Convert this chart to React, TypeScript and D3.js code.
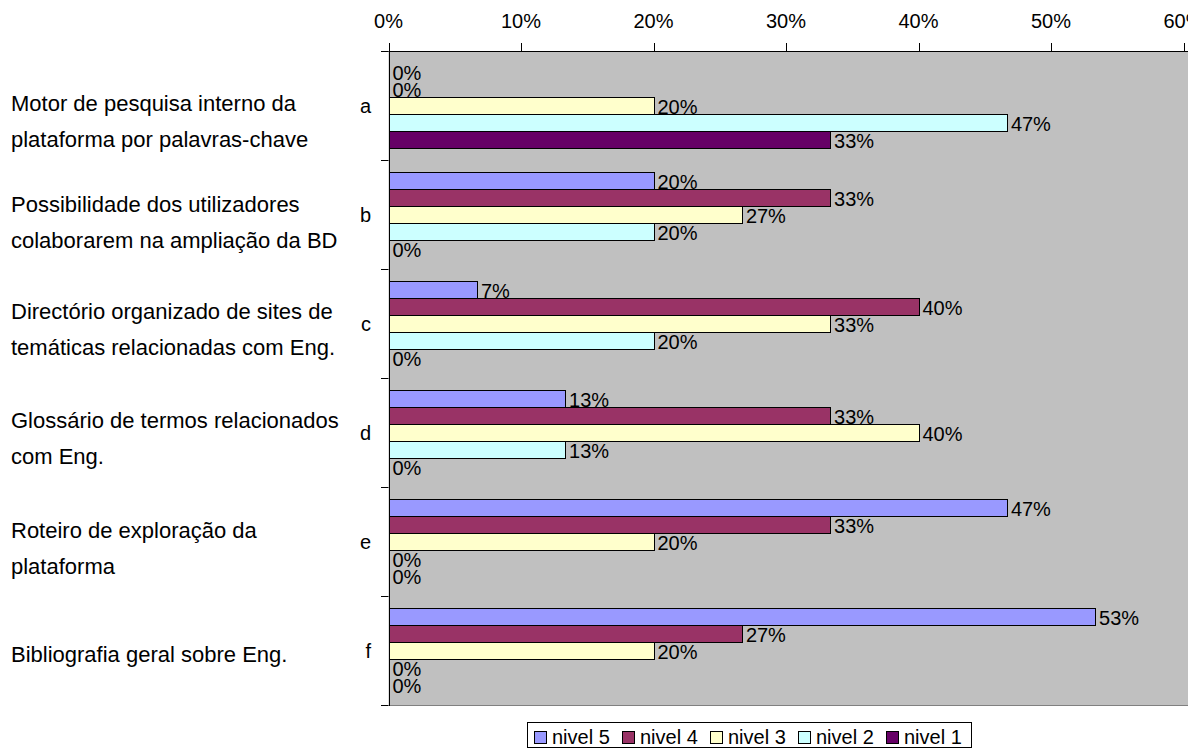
import React from 'react';
import * as d3 from 'd3';

// Categories (rows) and their descriptive labels
const categories = ['a', 'b', 'c', 'd', 'e', 'f'];
const categoryDescriptions = [
  ['Motor de pesquisa interno da', 'plataforma por palavras-chave'],
  ['Possibilidade dos utilizadores', 'colaborarem na ampliação da BD'],
  ['Directório organizado de sites de', 'temáticas relacionadas com Eng.'],
  ['Glossário de termos relacionados', 'com Eng.'],
  ['Roteiro de exploração da', 'plataforma'],
  ['Bibliografia geral sobre Eng.'],
];

// Series (percent of respondents per level)
const seriesNames = ['nivel 5', 'nivel 4', 'nivel 3', 'nivel 2', 'nivel 1'];
const nivel5 = [0, 20, 6.67, 13.33, 46.67, 53.33];
const nivel4 = [0, 33.33, 40, 33.33, 33.33, 26.67];
const nivel3 = [20, 26.67, 33.33, 40, 20, 20];
const nivel2 = [46.67, 20, 20, 13.33, 0, 0];
const nivel1 = [33.33, 0, 0, 0, 0, 0];
const seriesValues = [nivel5, nivel4, nivel3, nivel2, nivel1];
const seriesColors = ['#9999FF', '#993366', '#FFFFCC', '#CCFFFF', '#660066'];

const xTicks = [0, 10, 20, 30, 40, 50, 60];

// Layout of the free text blocks at the left (first-line offset from row centre)
const descFirstLineOffset = [-2, -10, -12, -12, -11, 4];
const descLineHeight = 36;

const W = 1188;
const H = 748;
const plot = { left: 388.5, top: 51, bottom: 705, right: 1190 };
const FONT = '"Liberation Sans", Arial, Helvetica, sans-serif';

export default function App() {
  const x = d3.scaleLinear().domain([0, 60]).range([388.5, 1183.5]);
  const yCat = d3.scaleBand<string>().domain(categories).range([plot.top, plot.bottom]);
  const ySer = d3
    .scaleBand<string>()
    .domain(seriesNames)
    .range([0, yCat.bandwidth()])
    .paddingInner(0)
    .paddingOuter(0.706);
  const fmt = (v: number) => d3.format('.0f')(v) + '%';
  const px = (v: number) => Math.round(v) + 0.5;

  return (
    <svg
      width={W}
      height={H}
      style={{ position: 'absolute', left: 0, top: 0, background: '#fff' }}
      fontFamily={FONT}
    >
      {/* plot area */}
      <rect
        x={plot.left}
        y={plot.top}
        width={plot.right - plot.left}
        height={plot.bottom - plot.top}
        fill="#C0C0C0"
      />
      <line x1={plot.left} x2={plot.right} y1={px(plot.bottom)} y2={px(plot.bottom)} stroke="#808080" />

      {/* bars with value labels */}
      {categories.map((c, ci) =>
        seriesNames.map((s, si) => {
          const v = seriesValues[si][ci];
          const y0 = px((yCat(c) as number) + (ySer(s) as number));
          const h = Math.round(ySer.bandwidth());
          const x0 = px(x(0));
          const x1 = px(x(v));
          return (
            <g key={c + s}>
              {v > 0 && (
                <rect x={x0} y={y0} width={x1 - x0} height={h} fill={seriesColors[si]} stroke="#000" strokeWidth={1} />
              )}
              <text x={x(v) + 4} y={y0 + h / 2 + 1} dy="0.36em" fontSize={20} fill="#000">
                {fmt(v)}
              </text>
            </g>
          );
        })
      )}

      {/* top value axis */}
      <line x1={plot.left} x2={plot.right} y1={px(plot.top)} y2={px(plot.top)} stroke="#000" />
      {xTicks.map((t) => (
        <g key={t}>
          <line x1={px(x(t))} x2={px(x(t))} y1={plot.top - 8} y2={plot.top} stroke="#000" />
          <text x={x(t)} y={28.3} textAnchor="middle" fontSize={20} fill="#000">
            {t + '%'}
          </text>
        </g>
      ))}

      {/* left category axis */}
      <line x1={px(plot.left)} x2={px(plot.left)} y1={plot.top} y2={plot.bottom + 1} stroke="#000" />
      {d3.range(categories.length + 1).map((i) => {
        const yy = px(plot.top + i * yCat.step());
        return <line key={i} x1={381} x2={plot.left} y1={yy} y2={yy} stroke="#000" />;
      })}
      {categories.map((c) => (
        <text
          key={c}
          x={371}
          y={(yCat(c) as number) + yCat.bandwidth() / 2}
          dy="0.36em"
          textAnchor="end"
          fontSize={20}
          fill="#000"
        >
          {c}
        </text>
      ))}

      {/* descriptive labels */}
      {categoryDescriptions.map((lines, ci) => {
        const cy = (yCat(categories[ci]) as number) + yCat.bandwidth() / 2 + descFirstLineOffset[ci];
        return lines.map((ln, li) => (
          <text
            key={ci + '-' + li}
            x={11}
            y={cy + li * descLineHeight}
            dy="0.36em"
            fontSize={22}
            fill="#000"
          >
            {ln}
          </text>
        ));
      })}

      {/* legend */}
      <rect x={527.5} y={722.5} width={444} height={25} fill="#fff" stroke="#000" />
      {seriesNames.map((s, i) => (
        <g key={s} transform={`translate(${534 + i * 88},0)`}>
          <rect x={0.5} y={731.5} width={12} height={12} fill={seriesColors[i]} stroke="#000" />
          <text x={18} y={744} fontSize={20} fill="#000">
            {s}
          </text>
        </g>
      ))}
    </svg>
  );
}
